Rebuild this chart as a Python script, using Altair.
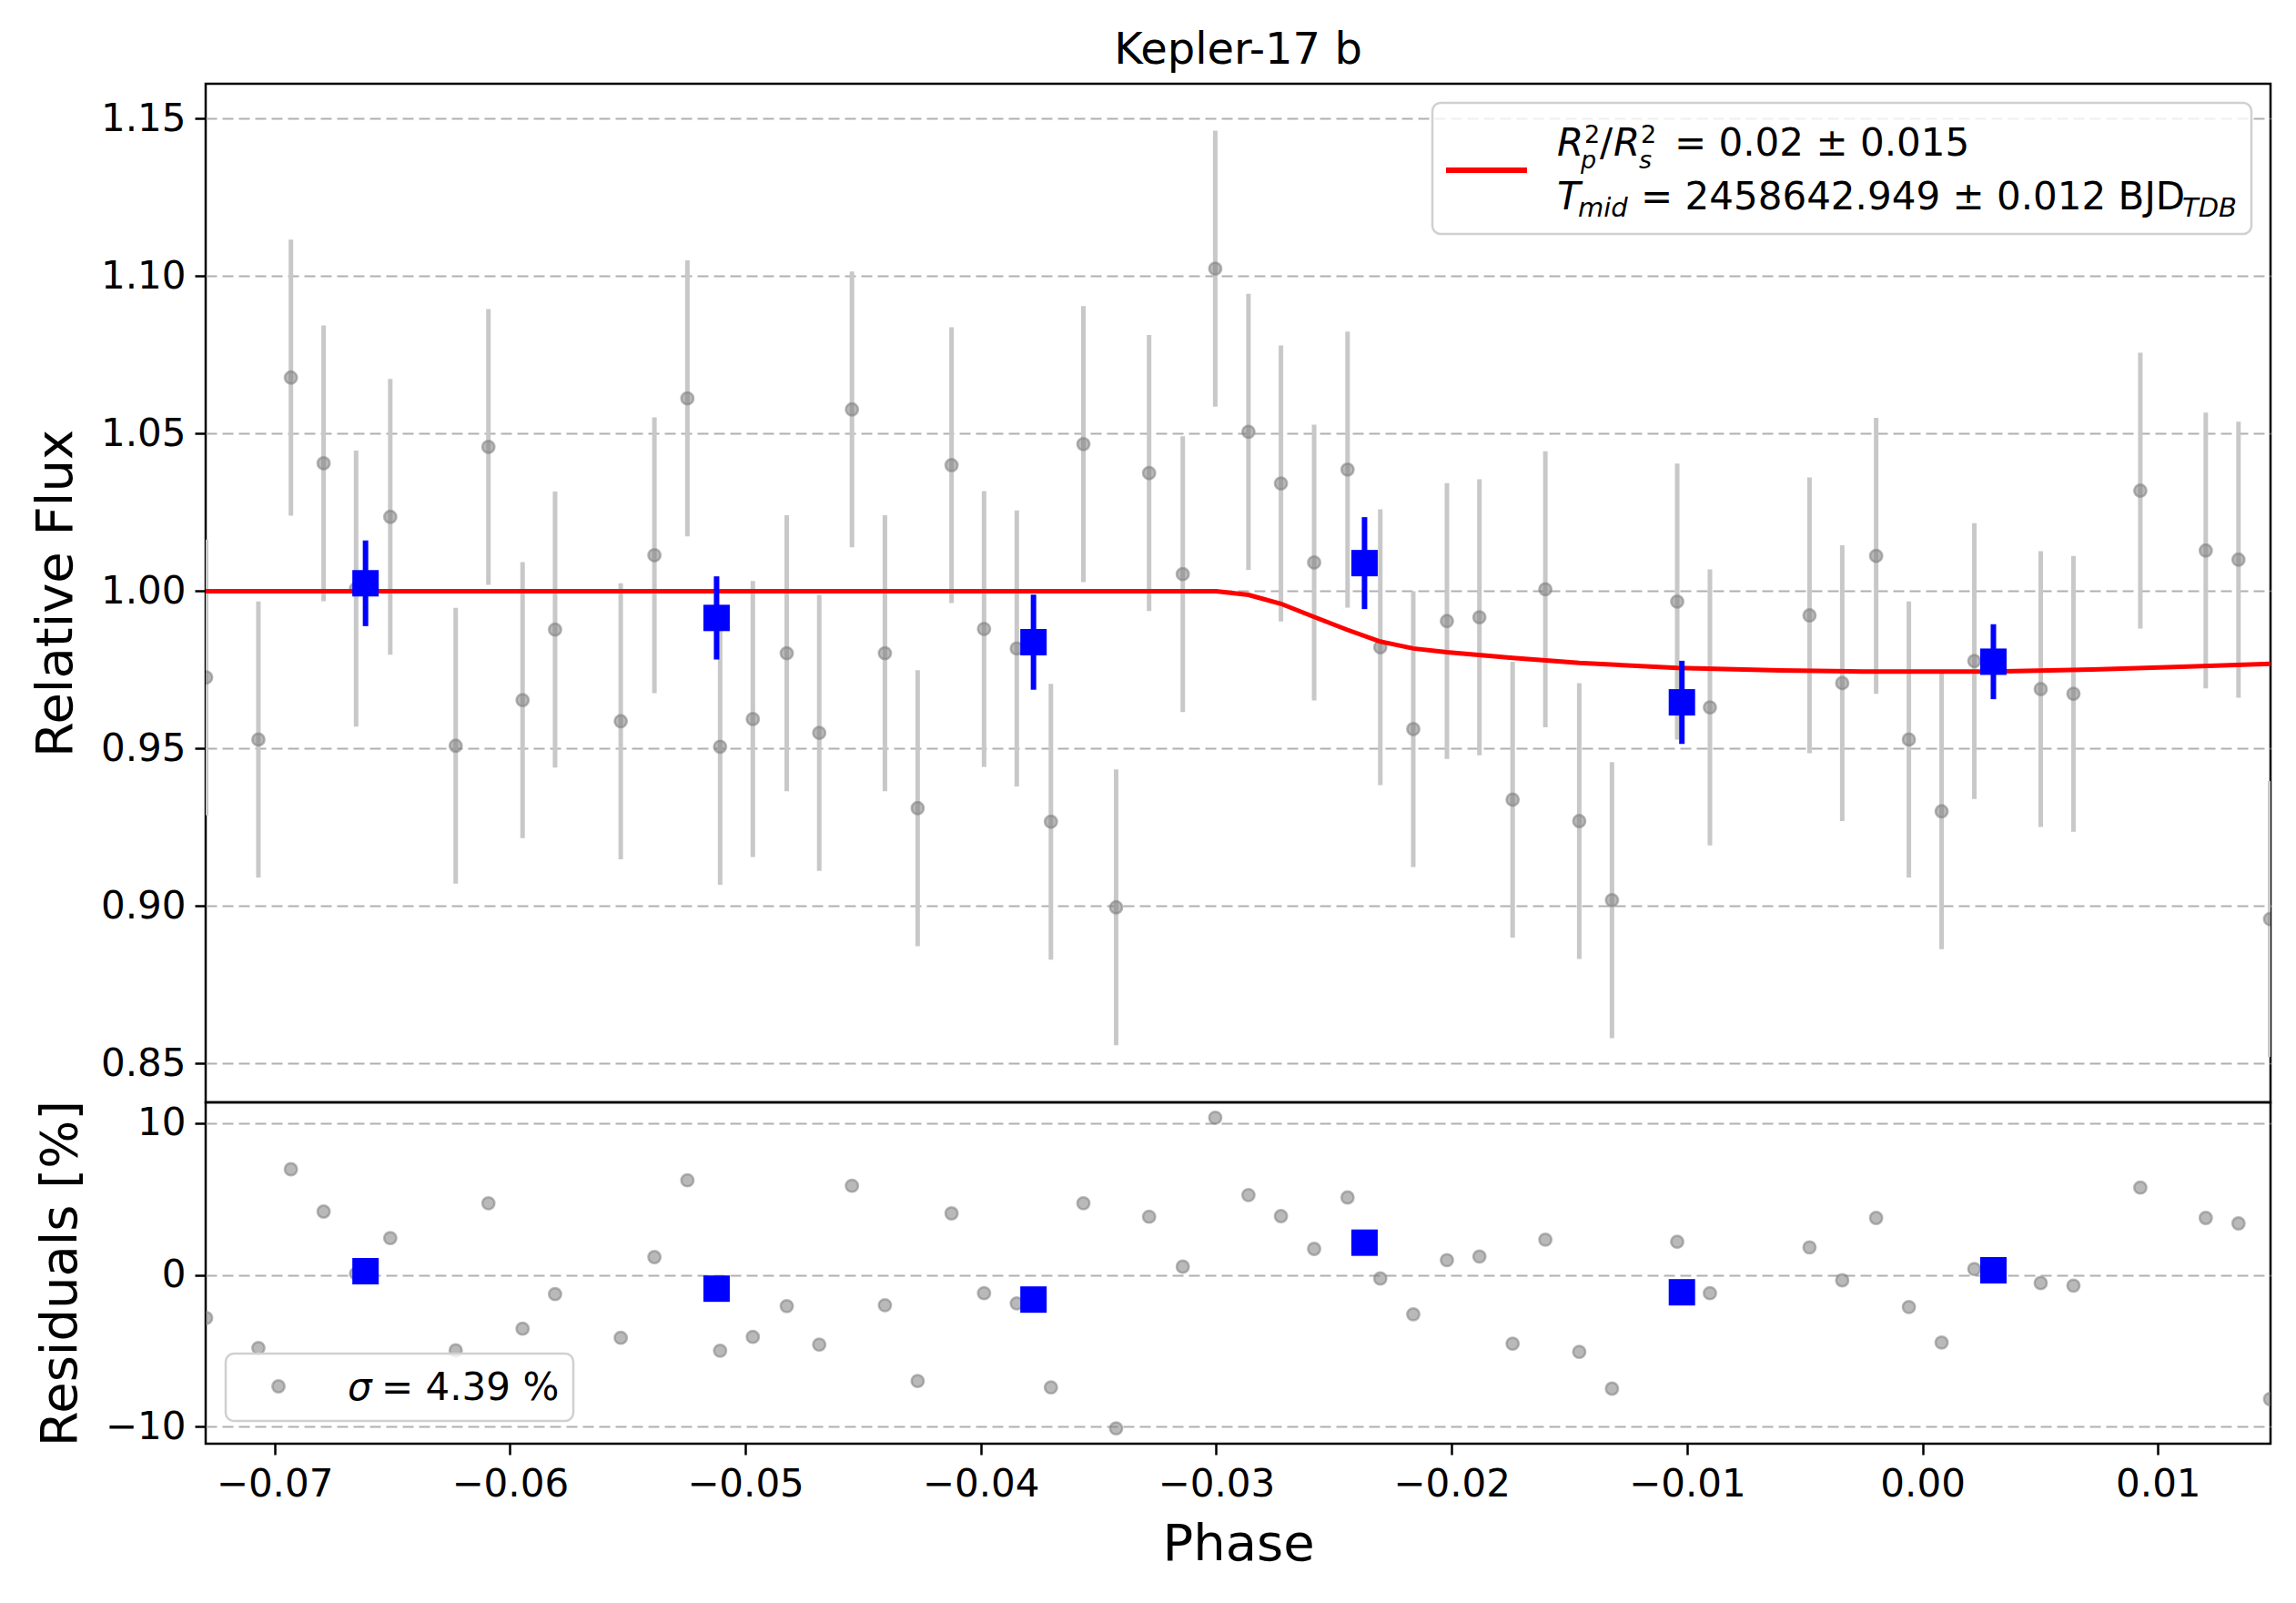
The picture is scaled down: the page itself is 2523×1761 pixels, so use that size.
import altair as alt
import pandas as pd

FONT = "DejaVu Sans"

# unbinned light curve (phase, relative flux, residual in %)
PHASE = [
    -0.07290, -0.07068, -0.06930, -0.06791, -0.06653, -0.06508, -0.06230, -0.06091,
    -0.05946, -0.05808, -0.05529, -0.05386, -0.05246, -0.05107, -0.04968, -0.04824,
    -0.04686, -0.04547, -0.04407, -0.04268, -0.04124, -0.03986, -0.03847, -0.03702,
    -0.03564, -0.03425, -0.03285, -0.03142, -0.03004, -0.02863, -0.02725, -0.02584,
    -0.02442, -0.02303, -0.02163, -0.02020, -0.01882, -0.01741, -0.01602, -0.01458,
    -0.01319, -0.01042, -0.00903, -0.00480, -0.00341, -0.00197, -0.00058, 0.00081,
    0.00220, 0.00502, 0.00641, 0.00925, 0.01203, 0.01342, 0.01476,
]
FLUX = [
    0.9726, 0.9529, 1.0678, 1.0406, 1.0008, 1.0236, 0.9509, 1.0458,
    0.9654, 0.9878, 0.9587, 1.0114, 1.0612, 0.9506, 0.9594, 0.9803,
    0.9550, 1.0577, 0.9803, 0.9311, 1.0400, 0.9880, 0.9818, 0.9268,
    1.0467, 0.8996, 1.0375, 1.0054, 1.1024, 1.0506, 1.0342, 1.0091,
    1.0386, 0.9822, 0.9562, 0.9905, 0.9917, 0.9338, 1.0006, 0.9270,
    0.9019, 0.9967, 0.9631, 0.9923, 0.9708, 1.0112, 0.9529, 0.9301,
    0.9778, 0.9689, 0.9674, 1.0319, 1.0129, 1.0100, 0.8959,
]
FLUX_ERR = 0.0438
RESIDUAL = [
    -2.84, -4.82, 6.96, 4.17, 0.08, 2.42, -4.98, 4.72,
    -3.55, -1.27, -4.15, 1.17, 6.23, -5.00, -4.09, -2.06,
    -4.60, 5.87, -2.00, -7.00, 4.05, -1.21, -1.88, -7.42,
    4.72, -10.12, 3.83, 0.54, 10.36, 5.26, 3.87, 1.71,
    5.10, -0.24, -2.60, 0.97, 1.21, -4.54, 2.32, -5.08,
    -7.50, 2.18, -1.21, 1.81, -0.36, 3.75, -2.12, -4.46,
    0.38, -0.54, -0.71, 5.75, 3.75, 3.39, -8.19,
]

# binned points
BIN_PHASE = [-0.06613, -0.05122, -0.03776, -0.02370, -0.01022, 0.00301]
BIN_FLUX = [1.0025, 0.9915, 0.9838, 1.0089, 0.9647, 0.9776]
BIN_ERR = [0.0136, 0.0132, 0.0151, 0.0146, 0.0132, 0.0119]
BIN_RESIDUAL = [0.24, -0.91, -1.63, 2.12, -1.15, 0.30]

# transit model curve
MODEL_PHASE = [-0.07292, -0.03000, -0.02863, -0.02725, -0.02584, -0.02442, -0.02303,
               -0.02163, -0.02020, -0.01741, -0.01458, -0.01041, -0.00600, -0.00256,
               0.00297, 0.00723, 0.01100, 0.01478]
MODEL_FLUX = [1.0, 1.0, 0.9988, 0.9960, 0.9918, 0.9877, 0.9840,
              0.9818, 0.9806, 0.9788, 0.9772, 0.9756, 0.9748, 0.9745,
              0.9745, 0.9751, 0.9760, 0.9769]

X_TICKS = [-0.07, -0.06, -0.05, -0.04, -0.03, -0.02, -0.01, 0.00, 0.01]
FLUX_TICKS = [0.85, 0.90, 0.95, 1.00, 1.05, 1.10, 1.15]
RES_TICKS = [-10, 0, 10]

W, H_TOP, H_RES = 2269, 1119, 375
GREY_BAR = "#c8c8c8"

points = pd.DataFrame({"phase": PHASE, "flux": FLUX, "resid": RESIDUAL})
points["lo"] = points["flux"] - FLUX_ERR
points["hi"] = points["flux"] + FLUX_ERR
binned = pd.DataFrame({"phase": BIN_PHASE, "flux": BIN_FLUX, "err": BIN_ERR,
                       "resid": BIN_RESIDUAL})
binned["lo"] = binned["flux"] - binned["err"]
binned["hi"] = binned["flux"] + binned["err"]
model = pd.DataFrame({"phase": MODEL_PHASE, "flux": MODEL_FLUX})
one = pd.DataFrame({"k": [0]})

x_scale = alt.Scale(domain=[-0.07292, 0.01478], nice=False, zero=False)
flux_scale = alt.Scale(domain=[0.8377, 1.1611], nice=False, zero=False)
res_scale = alt.Scale(domain=[-11.13, 11.37], nice=False, zero=False)


def y_axis(title, values, fmt):
    return alt.Axis(title=title, values=values, format=fmt, grid=True,
                    gridDash=[12, 6], gridColor="#b0b0b0", gridWidth=2,
                    domain=False, tickSize=12, tickWidth=2.5, tickColor="black",
                    labelFont=FONT, labelFontSize=42, labelColor="black",
                    labelPadding=10, titleFont=FONT, titleFontSize=56,
                    titleFontWeight="normal", titleColor="black", titlePadding=20)


def label(text, x, y, size=42, italic=False):
    return alt.Chart(one).mark_text(
        text=text, font=FONT, fontSize=size, color="black", align="left",
        baseline="alphabetic", fontStyle="italic" if italic else "normal"
    ).encode(x=alt.value(x), y=alt.value(y))


DOT = dict(filled=True, shape="circle", size=180, fill="#808080", stroke="#808080",
           fillOpacity=0.55, strokeOpacity=0.55, strokeWidth=2.5)

x_none = alt.X("phase:Q", scale=x_scale, axis=None)
x_axis = alt.Axis(title="Phase", values=X_TICKS, format=".2f", grid=False, domain=False,
                  tickSize=12, tickWidth=2.5, tickColor="black", labelFont=FONT,
                  labelFontSize=42, labelColor="black", labelPadding=12,
                  labelFlush=False, labelOverlap=False, titleFont=FONT,
                  titleFontSize=56, titleFontWeight="normal", titleColor="black",
                  titlePadding=18)
x_res = alt.X("phase:Q", scale=x_scale, axis=x_axis)

# ---- top panel
grey_err = alt.Chart(points).mark_rule(color=GREY_BAR, strokeWidth=5, clip=True).encode(
    x=x_none, y=alt.Y("lo:Q", scale=flux_scale), y2="hi:Q")
grey_pts = alt.Chart(points).mark_point(clip=True, **DOT).encode(
    x=x_none,
    y=alt.Y("flux:Q", scale=flux_scale, axis=y_axis("Relative Flux", FLUX_TICKS, ".2f")))
model_line = alt.Chart(model).mark_line(color="red", strokeWidth=5, clip=True).encode(
    x=x_none, y=alt.Y("flux:Q", scale=flux_scale))
bin_err = alt.Chart(binned).mark_rule(color="#0000ff", strokeWidth=6, clip=True).encode(
    x=x_none, y=alt.Y("lo:Q", scale=flux_scale), y2="hi:Q")
bin_pts = alt.Chart(binned).mark_square(size=841, color="#0000ff", opacity=1).encode(
    x=x_none, y=alt.Y("flux:Q", scale=flux_scale))

legend_box = alt.Chart(one).mark_rect(
    fill="white", fillOpacity=0.8, stroke="#d0d0d0", strokeWidth=2.5, cornerRadius=9
).encode(x=alt.value(1348), x2=alt.value(2248), y=alt.value(21), y2=alt.value(165))
legend_line = alt.Chart(one).mark_rule(color="red", strokeWidth=6).encode(
    x=alt.value(1363), x2=alt.value(1452), y=alt.value(95))

legend_text = [
    label("R", 1485, 79, italic=True),
    label("2", 1515, 65, size=27),
    label("p", 1511, 93, size=27, italic=True),
    label("/", 1532, 79),
    label("R", 1547, 79, italic=True),
    label("2", 1577, 65, size=27),
    label("s", 1575, 93, size=27, italic=True),
    label("= 0.02 ± 0.015", 1614, 79),
    label("T", 1485, 138, italic=True),
    label("mid", 1508, 146, size=29, italic=True),
    label("= 2458642.949 ± 0.012 BJD", 1577, 138),
    label("TDB", 2172, 146, size=29, italic=True),
]

top = alt.layer(
    grey_err, grey_pts, model_line, bin_err, bin_pts, legend_box, legend_line, *legend_text
).properties(
    width=W, height=H_TOP,
    title=alt.TitleParams("Kepler-17 b", font=FONT, fontSize=48, fontWeight="normal",
                          color="black", anchor="middle", offset=12),
)

# ---- residual panel
res_pts = alt.Chart(points).mark_point(clip=True, **DOT).encode(
    x=x_res,
    y=alt.Y("resid:Q", scale=res_scale, axis=y_axis("Residuals [%]", RES_TICKS, "d")))
res_bin = alt.Chart(binned).mark_square(size=841, color="#0000ff", opacity=1).encode(
    x=x_res, y=alt.Y("resid:Q", scale=res_scale))

res_box = alt.Chart(one).mark_rect(
    fill="white", fillOpacity=0.8, stroke="#d0d0d0", strokeWidth=2.5, cornerRadius=9
).encode(x=alt.value(22), x2=alt.value(404), y=alt.value(276), y2=alt.value(350))
res_marker = alt.Chart(one).mark_point(**DOT).encode(x=alt.value(80), y=alt.value(312))

bottom = alt.layer(
    res_pts, res_bin, res_box, res_marker,
    label("σ", 156, 327, italic=True),
    label("= 4.39 %", 193, 327),
).properties(width=W, height=H_RES)

chart = alt.vconcat(top, bottom, spacing=0, bounds="flush").properties(
    padding={"left": 24, "top": 22, "right": 10, "bottom": 10},
    background="white",
).configure_view(stroke="black", strokeWidth=2.5)

chart.save("out.html", embed_options={"renderer": "svg", "actions": False})
